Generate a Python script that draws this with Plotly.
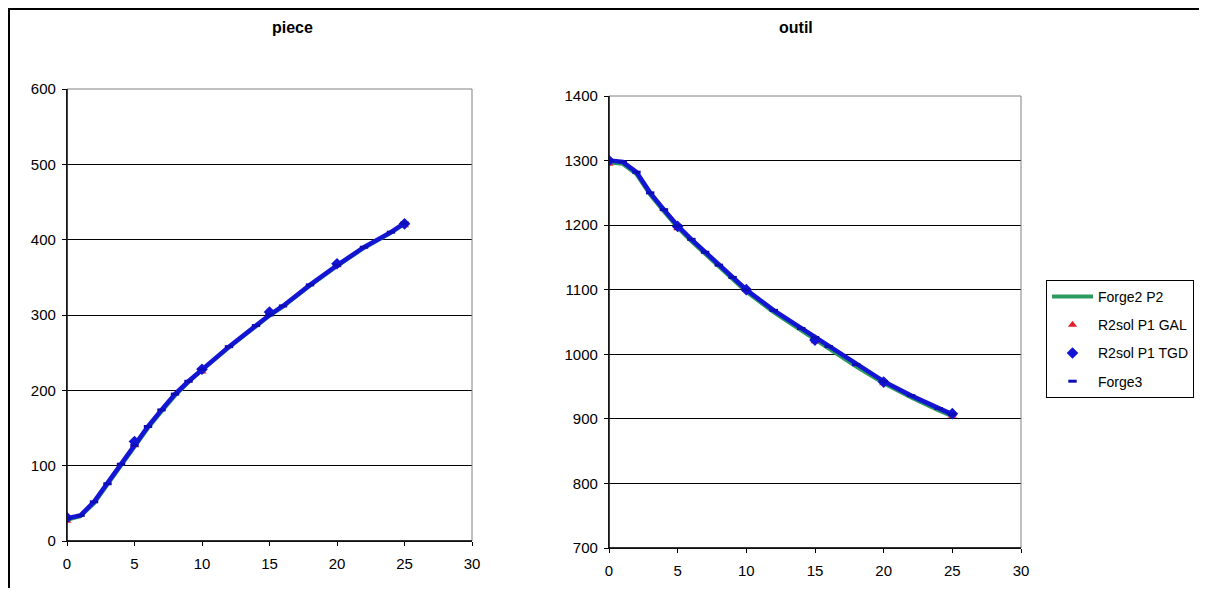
import plotly.graph_objects as go

# ---------------- data ----------------
curve_x = [0, 1, 2, 3, 4, 5, 6, 7, 8, 9, 10, 12, 14, 15, 16, 18, 20, 22, 24, 25]
piece_forge3 = [30, 34, 52, 76, 102, 127, 152, 174, 195, 212, 228, 258, 286, 300, 312, 340, 366, 390, 410, 422]
piece_forge2 = [28, 33, 50, 74, 100, 125, 150, 172, 193, 211, 227, 257, 285, 299, 311, 339, 365, 389, 409, 421]
outil_forge3 = [1300, 1298, 1282, 1250, 1224, 1199, 1178, 1158, 1138, 1119, 1100, 1068, 1040, 1026, 1012, 984, 958, 936, 916, 907]
outil_forge2 = [1297, 1295, 1279, 1247, 1221, 1196, 1175, 1155, 1135, 1116, 1097, 1065, 1037, 1023, 1009, 981, 955, 933, 913, 904]

pts_x = [0, 5, 10, 15, 20, 25]
piece_gal = [27, 127, 225, 302, 366, 419]
piece_tgd = [31, 132, 228, 304, 368, 421]
outil_gal = [1295, 1195, 1100, 1020, 955, 905]
outil_tgd = [1300, 1198, 1100, 1022, 957, 908]

x_ticks = [0, 5, 10, 15, 20, 25, 30]
piece_ticks = [0, 100, 200, 300, 400, 500, 600]
outil_ticks = [700, 800, 900, 1000, 1100, 1200, 1300, 1400]

GREEN = "#2e9960"
RED = "#e0202a"
BLUE = "#1414d4"
DASH = "#0e0eb8"
FONT = "Liberation Sans, Arial, sans-serif"

# the page adds an 8px body margin, so the figure starts at (8, 8) in the window;
# size the figure so the page is exactly the window (no scrollbars)
OFF = 8
W, H = 1207 - 2 * OFF, 596 - 2 * OFF

def px(x):
    return (x - OFF) / W

def py(y):
    return 1 - (y - OFF) / H

fig = go.Figure()

def add_panel(xa, ya, forge2, forge3, gal, tgd, show):
    fig.add_trace(go.Scatter(x=curve_x, y=forge2, mode="lines", name="Forge2 P2",
                             line=dict(color=GREEN, width=4), xaxis=xa, yaxis=ya,
                             showlegend=show, legendgroup="a", legendrank=1))
    fig.add_trace(go.Scatter(x=pts_x, y=gal, mode="markers", name="R2sol P1 GAL",
                             marker=dict(symbol="triangle-up", color=RED, size=8),
                             xaxis=xa, yaxis=ya, showlegend=show, legendgroup="b", legendrank=2))
    fig.add_trace(go.Scatter(x=curve_x, y=forge3, mode="lines", name="Forge3",
                             line=dict(color=BLUE, width=4.5), xaxis=xa, yaxis=ya,
                             showlegend=False, legendgroup="d"))
    fig.add_trace(go.Scatter(x=pts_x, y=tgd, mode="markers", name="R2sol P1 TGD",
                             marker=dict(symbol="diamond", color=BLUE, size=9),
                             xaxis=xa, yaxis=ya, showlegend=show, legendgroup="c", legendrank=3))
    fig.add_trace(go.Scatter(x=curve_x, y=forge3, mode="markers", name="Forge3",
                             marker=dict(symbol="line-ew", size=6, color=DASH,
                                         line=dict(color=DASH, width=3)),
                             xaxis=xa, yaxis=ya, showlegend=show, legendgroup="d", legendrank=4))

add_panel("x", "y", piece_forge2, piece_forge3, piece_gal, piece_tgd, True)
add_panel("x2", "y2", outil_forge2, outil_forge3, outil_gal, outil_tgd, False)

axis_common = dict(showline=True, linecolor="black", linewidth=1.3, ticks="outside",
                   ticklen=4, tickcolor="black", tickfont=dict(family=FONT, size=15, color="black"),
                   zeroline=False, automargin=False)

fig.update_layout(
    template="none",
    width=W, height=H, autosize=False,
    margin=dict(l=0, r=0, t=0, b=0, pad=0, autoexpand=False),
    paper_bgcolor="white", plot_bgcolor="white",
    font=dict(family=FONT, size=15, color="black"),
    xaxis=dict(domain=[px(67), px(472)], range=[0, 30], tickvals=x_ticks,
               showgrid=False, anchor="y", ticklabelstandoff=5, **axis_common),
    yaxis=dict(domain=[py(541), py(89)], range=[0, 600], tickvals=piece_ticks,
               showgrid=True, gridcolor="black", gridwidth=1, anchor="x",
               ticklabelstandoff=3, **axis_common),
    xaxis2=dict(domain=[px(609), px(1021)], range=[0, 30], tickvals=x_ticks,
                showgrid=False, anchor="y2", ticklabelstandoff=5, **axis_common),
    yaxis2=dict(domain=[py(548), py(96)], range=[700, 1400], tickvals=outil_ticks,
                showgrid=True, gridcolor="black", gridwidth=1, anchor="x2",
                ticklabelstandoff=3, **axis_common),
    legend=dict(x=px(1046), y=py(280), xanchor="left", yanchor="top",
                bordercolor="black", borderwidth=1, bgcolor="white",
                font=dict(family=FONT, size=14, color="black"),
                tracegroupgap=7, traceorder="grouped", itemwidth=41),
    annotations=[
        dict(text="<b>piece</b>", x=px((67 + 472) / 2), y=py(28), xref="paper", yref="paper",
             yanchor="middle", showarrow=False, font=dict(family=FONT, size=16, color="black")),
        dict(text="<b>outil</b>", x=px((609 + 1021) / 2), y=py(28), xref="paper", yref="paper",
             yanchor="middle", showarrow=False, font=dict(family=FONT, size=16, color="black")),
    ],
    shapes=[
        dict(type="rect", xref="x domain", yref="y domain", x0=0, x1=1, y0=0, y1=1,
             line=dict(color="#808080", width=1), layer="above"),
        dict(type="rect", xref="x2 domain", yref="y2 domain", x0=0, x1=1, y0=0, y1=1,
             line=dict(color="#808080", width=1), layer="above"),
        dict(type="line", xref="x domain", yref="y domain", x0=0, x1=0, y0=0, y1=1,
             line=dict(color="black", width=1.3), layer="above"),
        dict(type="line", xref="x domain", yref="y domain", x0=0, x1=1, y0=0, y1=0,
             line=dict(color="black", width=1.3), layer="above"),
        dict(type="line", xref="x2 domain", yref="y2 domain", x0=0, x1=0, y0=0, y1=1,
             line=dict(color="black", width=1.3), layer="above"),
        dict(type="line", xref="x2 domain", yref="y2 domain", x0=0, x1=1, y0=0, y1=0,
             line=dict(color="black", width=1.3), layer="above"),
        dict(type="rect", xref="paper", yref="paper", x0=px(9), x1=1.05, y0=-0.05, y1=py(9),
             line=dict(color="black", width=2)),
    ],
)

fig.write_html("out.html")
